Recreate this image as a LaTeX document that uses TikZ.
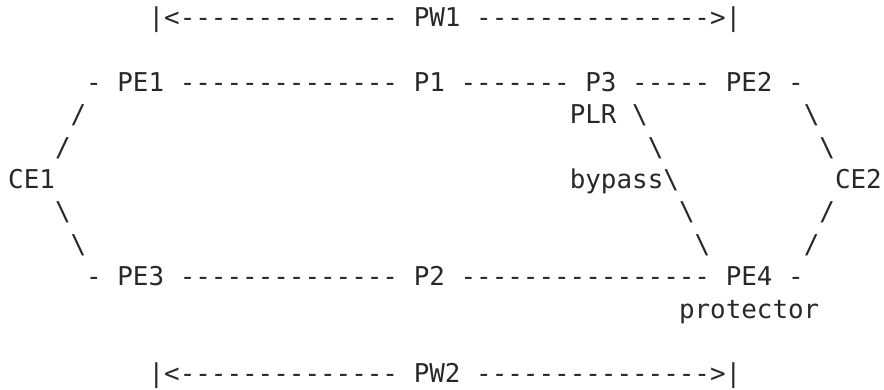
\documentclass[tikz,border=0pt]{standalone}
\usepackage{fontspec}
\setmonofont{DejaVu Sans Mono}
\usetikzlibrary{positioning}
\definecolor{asciitext}{RGB}{40,40,40}

\begin{document}
\begin{tikzpicture}[x=15.6pt, y=-32.4pt, shift={(8pt,5.9pt)},
  every node/.style={font=\ttfamily\fontsize{25.9pt}{32.4pt}\selectfont, text=asciitext, inner sep=0pt, anchor=base west}]
 \useasboundingbox (-8pt,-5.9pt) rectangle (876pt,-395.9pt);
 \node (pw1-left)  at (9,1)  {|<--------------};
 \node (pw1)       at (26,1) {PW1};
 \node (pw1-right) at (30,1) {--------------->|};
 \node (pe1-end)   at (5,3)  {-};
 \node (pe1)       at (7,3)  {PE1};
 \node (pe1-p1)    at (11,3) {--------------};
 \node (p1)        at (26,3) {P1};
 \node (p1-p3)     at (29,3) {-------};
 \node (p3)        at (37,3) {P3};
 \node (p3-pe2)    at (40,3) {-----};
 \node (pe2)       at (46,3) {PE2};
 \node (pe2-end)   at (50,3) {-};
 \node (ce1-pe1-a) at (4,4)  {/};
 \node (plr)       at (36,4) {PLR};
 \node (p3-pe4-a)  at (40,4) {\textbackslash};
 \node (pe2-ce2-a) at (51,4) {\textbackslash};
 \node (ce1-pe1-b) at (3,5)  {/};
 \node (p3-pe4-b)  at (41,5) {\textbackslash};
 \node (pe2-ce2-b) at (52,5) {\textbackslash};
 \node (ce1)       at (0,6)  {CE1};
 \node (bypass)    at (36,6) {bypass};
 \node (p3-pe4-c)  at (42,6) {\textbackslash};
 \node (ce2)       at (53,6) {CE2};
 \node (ce1-pe3-a) at (3,7)  {\textbackslash};
 \node (p3-pe4-d)  at (43,7) {\textbackslash};
 \node (ce2-pe4-a) at (52,7) {/};
 \node (ce1-pe3-b) at (4,8)  {\textbackslash};
 \node (p3-pe4-e)  at (44,8) {\textbackslash};
 \node (ce2-pe4-b) at (51,8) {/};
 \node (pe3-end)   at (5,9)  {-};
 \node (pe3)       at (7,9)  {PE3};
 \node (pe3-p2)    at (11,9) {--------------};
 \node (p2)        at (26,9) {P2};
 \node (p2-pe4)    at (29,9) {----------------};
 \node (pe4)       at (46,9) {PE4};
 \node (pe4-end)   at (50,9) {-};
 \node (protector) at (43,10) {protector};
 \node (pw2-left)  at (9,12)  {|<--------------};
 \node (pw2)       at (26,12) {PW2};
 \node (pw2-right) at (30,12) {--------------->|};
\end{tikzpicture}
\end{document}
